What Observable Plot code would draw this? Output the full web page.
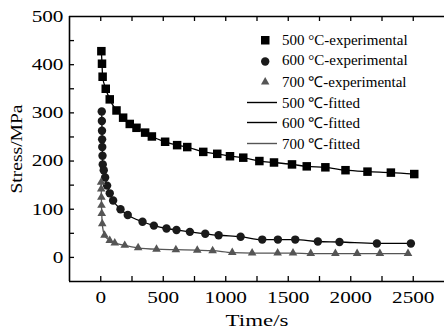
<!DOCTYPE html>
<html>
<head>
<meta charset="utf-8">
<script src="https://cdn.jsdelivr.net/npm/d3@7"></script>
<script src="https://cdn.jsdelivr.net/npm/@observablehq/plot@0.6"></script>
</head>
<body style="margin:0;padding:0;background:white;font-family:'Liberation Serif'">
<div id="wrap" style="position:relative;width:444px;height:334px;overflow:hidden;font-family:'Liberation Serif'"></div>
<script>
// ---- data ----
const t500 = [5,10,15,40,72,126,179,232,286,355,409,515,611,692,820,932,1034,1140,1269,1386,1530,1648,1797,1958,2134,2321,2508];
const s500 = [428,402,375,350,328,305,290,277,269,259,251,240,233,229,219,215,210,207,200,197,193,189,187,181,178,176,173];

const t600 = [8,9,10,11,12,14,16,24,35,51,72,99,158,216,334,425,526,606,713,836,943,1119,1292,1417,1556,1737,1910,2209,2481];
const s600 = [303,283,263,245,229,211,193,181,166,149,133,118,100,88,74,66,60,57,53,49,46,43,37,37,37,33,32,29,29];

const t700 = [3,4,5,6,8,12,30,72,112,192,299,446,601,772,895,1052,1211,1415,1538,1680,1877,2051,2233,2458];
const s700 = [156,142,125,108,91,70,46,35,30,25,20,17,16,15,14,10,9,9,9,8,8,8,8,8];

const xTicks = [0,500,1000,1500,2000,2500];
const xMinor = [0,250,500,750,1000,1250,1500,1750,2000,2250,2500];
const yTicks = [0,100,200,300,400,500];
const yMinor = [0,50,100,150,200,250,300,350,400,450];

const legendLabels = ["500 \u00B0C-experimental","600 \u00B0C-experimental","700 \u2103-experimental","500 \u2103-fitted","600 \u2103-fitted","700 \u2103-fitted"];
const legendKinds = ["square","circle","triangle","line","line","line"];
const colors = ["#000000","#1a1a1a","#555555"];

const mk = (t, s) => t.map((v, i) => ({t: v, s: s[i]}));
const d500 = mk(t500, s500), d600 = mk(t600, s600), d700 = mk(t700, s700);

const frameH = 334 - 16 - 53, frameW = 444 - 69, tk = 5;
const chart = Plot.plot({
  width: 444, height: 334,
  marginLeft: 69, marginRight: 0, marginTop: 16, marginBottom: 53,
  style: {fontFamily: "Liberation Serif", background: "white", color: "black"},
  x: {domain: [-250, 2750]},
  y: {domain: [-50, 500]},
  marks: [
    Plot.ruleX([-250], {strokeWidth: 1.6}),
    Plot.ruleY([-50], {strokeWidth: 1.6}),
    Plot.ruleY([500], {strokeWidth: 1.6}),
    Plot.ruleY(yMinor, {insetRight: frameW - tk, strokeWidth: 1.3}),
    Plot.ruleX(xMinor, {insetTop: frameH - tk, strokeWidth: 1.3}),
    Plot.ruleX(xMinor, {insetBottom: frameH - tk, strokeWidth: 1.3}),
    Plot.axisY({ticks: yTicks, tickSize: 0, tickPadding: 6, fontSize: 17, tickFormat: d => String(d), label: "Stress/MPa", labelAnchor: "center", labelOffset: 60, labelArrow: "none"}),
    Plot.axisX({ticks: xTicks, tickSize: 0, tickPadding: 9, fontSize: 17, tickFormat: d => String(d), label: "Time/s", labelAnchor: "center", labelOffset: 44, labelArrow: "none"}),
    Plot.line(d500, {x: "t", y: "s", curve: "monotone-x", stroke: "#000", strokeWidth: 1.3}),
    Plot.line(d600, {x: "t", y: "s", curve: "monotone-x", stroke: "#000", strokeWidth: 1.3}),
    Plot.line(d700, {x: "t", y: "s", curve: "monotone-x", stroke: "#555", strokeWidth: 1.3}),
    Plot.dot(d500, {x: "t", y: "s", symbol: "square", r: 4.8, fill: colors[0], stroke: "none"}),
    Plot.dot(d600, {x: "t", y: "s", symbol: "circle", r: 4.2, fill: colors[1], stroke: "none"}),
    Plot.dot(d700, {x: "t", y: "s", symbol: "triangle", r: 3.2, fill: colors[2], stroke: "none"})
  ]
});
const wrap = document.getElementById("wrap");
wrap.appendChild(chart);

// widen the serif text horizontally (the reference uses widely spaced type)
chart.querySelectorAll("text").forEach(el => {
  const txt = el.textContent;
  const s = txt === "Time/s" ? 1.35 : txt === "Stress/MPa" ? 1.15 : 1.25;
  try {
    const bb = el.getBBox();
    const anchor = getComputedStyle(el).textAnchor;
    const ax = anchor === "end" ? bb.x + bb.width : anchor === "middle" ? bb.x + bb.width / 2 : bb.x;
    const t = el.getAttribute("transform") || "";
    el.setAttribute("transform", `${t} translate(${ax},0) scale(${s},1) translate(${-ax},0)`);
  } catch (e) {}
});

// legend (HTML, placed over the plot's top-right area)
const leg = document.createElement("div");
leg.setAttribute("style", "position:absolute;left:255px;top:30px;font-size:15px;color:#000;font-family:'Liberation Serif'");
legendLabels.forEach((lab, i) => {
  const row = document.createElement("div");
  row.setAttribute("style", `position:absolute;left:0;top:${i * 20.6}px;height:20px;white-space:nowrap;display:flex;align-items:center`);
  const kind = legendKinds[i];
  let sym = "";
  const col = i < 3 ? colors[i] : (i === 5 ? "#555" : "#000");
  if (kind === "square") sym = `<rect x="6" y="6" width="8.5" height="8.5" fill="${col}"/>`;
  else if (kind === "circle") sym = `<circle cx="10.2" cy="10.5" r="4.2" fill="${col}"/>`;
  else if (kind === "triangle") sym = `<path d="M10.2,6 L14.4,13.5 L6,13.5 Z" fill="${col}"/>`;
  else sym = `<line x1="-8" x2="22" y1="10.5" y2="10.5" stroke="${col}" stroke-width="1.4"/>`;
  row.innerHTML = `<svg viewBox="0 0 26 20" width="26" height="20" style="overflow:visible;flex:none">${sym}</svg><span style="margin-left:1px;font-family:'Liberation Serif'">${lab}</span>`;
  leg.appendChild(row);
});
wrap.appendChild(leg);
</script>
</body>
</html>
